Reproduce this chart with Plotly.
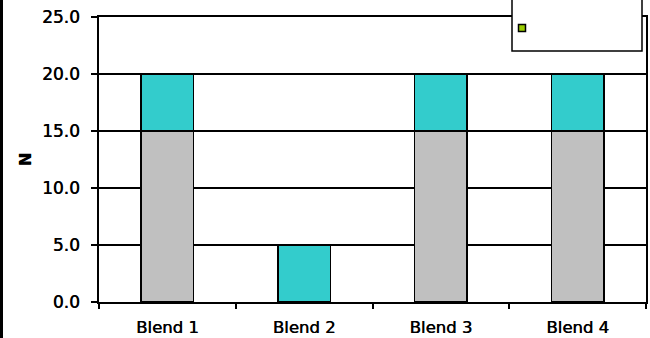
import plotly.graph_objects as go

# Blend composition, stacked
blends = ["Blend 1", "Blend 2", "Blend 3", "Blend 4"]
base_values = [15, 0, 15, 15]      # grey component
top_values = [5, 5, 5, 5]          # teal component
y_ticks = [0, 5, 10, 15, 20, 25]
y_tick_text = [f"{v:.1f}" for v in y_ticks]

W, H = 650, 338
M_L, M_R, M_T, M_B = 99, 4, 17, 36
PW, PH = W - M_L - M_R, H - M_T - M_B

font = dict(family="DejaVu Sans", size=17, color="black", shadow="0.5px 0px 0px black")
x_font = dict(font, size=16.5)
edge = dict(color="black", width=1.5)

fig = go.Figure()
fig.add_trace(go.Bar(x=blends, y=base_values, marker=dict(color="#C0C0C0", line=edge),
                     showlegend=False, name="Base"))
fig.add_trace(go.Bar(x=blends, y=top_values, marker=dict(color="#33CCCC", line=edge),
                     showlegend=False, name="Top"))
# legend-only series
fig.add_trace(go.Scatter(x=[None], y=[None], mode="markers", name=" ",
                         marker=dict(symbol="square", size=7, color="#99CC00",
                                     line=dict(color="black", width=1.5))))


def px_x(p):
    return (p - M_L) / PW


def px_y(p):
    return (H - M_B - p) / PH


# legend frame (extends past the top edge of the page)
fig.add_shape(type="rect", xref="paper", yref="paper",
              x0=px_x(512), x1=px_x(642), y0=px_y(51), y1=px_y(-20),
              line=dict(color="black", width=1.5), fillcolor="white", layer="above")
# page border on the left
fig.add_shape(type="rect", xref="paper", yref="paper",
              x0=px_x(0), x1=px_x(3), y0=px_y(H + 5), y1=px_y(-5),
              line=dict(width=0), fillcolor="black", layer="above")

fig.update_layout(
    width=W, height=H,
    margin=dict(l=M_L, r=M_R, t=M_T, b=M_B, autoexpand=False),
    barmode="stack", bargap=0.615,
    paper_bgcolor="white", plot_bgcolor="white",
    font=font,
    showlegend=True,
    legend=dict(x=px_x(502), y=px_y(28), xanchor="left", yanchor="middle",
                bgcolor="rgba(0,0,0,0)", borderwidth=0, font=dict(size=12)),
)
fig.update_xaxes(
    automargin=False,
    showline=True, linecolor="black", linewidth=1.5, mirror=True,
    ticks="outside", ticklen=5, tickwidth=1.5, tickcolor="black",
    tickson="boundaries", ticklabelstandoff=9, showgrid=False,
    tickfont=x_font,
)
fig.update_yaxes(
    automargin=False,
    range=[0, 25], tickvals=y_ticks, ticktext=y_tick_text,
    showline=True, linecolor="black", linewidth=1.5, mirror=True,
    ticks="outside", ticklen=6, tickwidth=1.5, tickcolor="black",
    ticklabelstandoff=8,
    showgrid=True, gridcolor="black", gridwidth=1.5, zeroline=False,
    tickfont=font,
    title=dict(text="N", font=dict(family="DejaVu Sans", size=16, color="black", weight="bold"),
               standoff=6),
)

fig.write_html("out.html")
